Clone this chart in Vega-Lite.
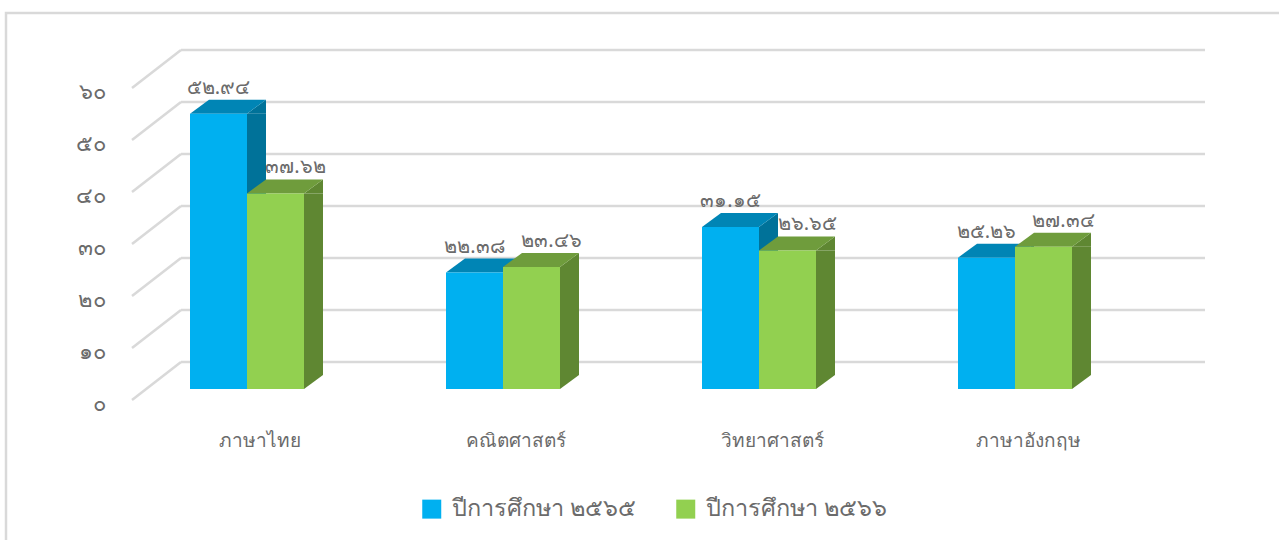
{
"$schema":"https://vega.github.io/schema/vega-lite/v6.json",
"width":1275,"height":529,
"autosize":"none",
"padding":{"left":6,"top":13,"right":0,"bottom":0},
"background":"white",
"config":{"view":{"stroke":"#d9d9d9","strokeWidth":2.5},"font":"Noto Sans"},
"datasets":{
"grid":[{"tick":0},{"tick":10},{"tick":20},{"tick":30},{"tick":40},{"tick":50},{"tick":60}],
"scores":[
{"subject":"ภาษาไทย","year":"ปีการศึกษา ๒๕๖๕","value":52.94,"label":"๕๒.๙๔"},
{"subject":"ภาษาไทย","year":"ปีการศึกษา ๒๕๖๖","value":37.62,"label":"๓๗.๖๒"},
{"subject":"คณิตศาสตร์","year":"ปีการศึกษา ๒๕๖๕","value":22.38,"label":"๒๒.๓๘"},
{"subject":"คณิตศาสตร์","year":"ปีการศึกษา ๒๕๖๖","value":23.46,"label":"๒๓.๔๖"},
{"subject":"วิทยาศาสตร์","year":"ปีการศึกษา ๒๕๖๕","value":31.15,"label":"๓๑.๑๕"},
{"subject":"วิทยาศาสตร์","year":"ปีการศึกษา ๒๕๖๖","value":26.65,"label":"๒๖.๖๕"},
{"subject":"ภาษาอังกฤษ","year":"ปีการศึกษา ๒๕๖๕","value":25.26,"label":"๒๕.๒๖"},
{"subject":"ภาษาอังกฤษ","year":"ปีการศึกษา ๒๕๖๖","value":27.34,"label":"๒๗.๓๔"}
]},
"resolve":{"scale":{"x":"independent","y":"independent"},"axis":{"x":"independent","y":"independent"}},
"layer":[
{"data":{"name":"grid"},"mark":{"type":"rule","stroke":"#d9d9d9","strokeWidth":2.5},
 "encoding":{"x":{"datum":0,"type":"quantitative","scale":{"domain":[0,1],"range":[175,1199]},"axis":null},"x2":{"datum":1},
 "y":{"field":"tick","type":"quantitative","scale":{"domain":[0,60],"range":[349,37]},"axis":null}}},
{"data":{"name":"grid"},"mark":{"type":"point","shape":"M0,0L-49,38","filled":false,"stroke":"#d9d9d9","strokeWidth":2.5,"size":4,"opacity":1},
 "encoding":{"x":{"datum":0,"type":"quantitative","scale":{"domain":[0,1],"range":[175,1199]},"axis":null},
 "y":{"field":"tick","type":"quantitative","scale":{"domain":[0,60],"range":[349,37]},"axis":null}}},
{"data":{"name":"scores"},"mark":{"type":"bar","width":19,"y2Offset":-14},
 "encoding":{
  "x":{"field":"subject","type":"nominal","sort":null,"scale":{"range":[151,1175],"paddingInner":0,"paddingOuter":0},"axis":null},
  "xOffset":{"field":"year","type":"nominal","sort":null,"scale":{"range":[71,185]}},
  "y":{"field":"value","type":"quantitative","scale":{"domain":[0,60],"range":[376,64]},"axis":null},
  "y2":{"datum":0},
  "color":{"condition":{"test":"indexof(datum.year,'๒๕๖๕')>=0","value":"#007299"},"value":"#5F8732"}}},
{"data":{"name":"scores"},
 "encoding":{
  "x":{"field":"subject","type":"nominal","sort":null,"scale":{"range":[113,1137],"paddingInner":0,"paddingOuter":0},
   "axis":{"title":null,"domain":false,"ticks":false,"labelAngle":0,"labelFontSize":19,"labelColor":"#6b6b6b","labelOffset":13,"offset":-111,"labelPadding":0,"labelBaseline":"top"}},
  "xOffset":{"field":"year","type":"nominal","sort":null,"scale":{"range":[71,185]}},
  "y":{"field":"value","type":"quantitative","scale":{"domain":[0,60],"range":[376,64]},
   "axis":{"title":null,"grid":false,"domain":false,"ticks":false,"values":[0,10,20,30,40,50,60],"labelExpr":"replace(replace(replace(replace(replace(replace(replace(datum.label,'0','๐'),'1','๑'),'2','๒'),'3','๓'),'4','๔'),'5','๕'),'6','๖')","labelFontSize":22,"labelColor":"#6b6b6b","labelPadding":0,"offset":-99,"labelOffset":14}}
 },
 "layer":[
  {"mark":{"type":"point","shape":"M28.5,0L47.5,0L47.5,-14Z","size":4,"filled":true,"opacity":1},
   "encoding":{"color":{"condition":{"test":"indexof(datum.year,'๒๕๖๕')>=0","value":"#007299"},"value":"#5F8732"}}},
  {"mark":{"type":"point","shape":"M28.5,0L28.5,-14L47.5,-14Z","size":4,"filled":true,"opacity":1},
   "encoding":{"y":{"datum":0},"color":{"condition":{"test":"indexof(datum.year,'๒๕๖๕')>=0","value":"#007299"},"value":"#5F8732"}}},
  {"mark":{"type":"point","shape":"M-28.5,0L28.5,0L47.5,-14L-9.5,-14Z","size":4,"filled":true,"opacity":1},
   "encoding":{"color":{"condition":{"test":"indexof(datum.year,'๒๕๖๕')>=0","value":"#0085B5"},"value":"#6F9C3C"}}},
  {"mark":{"type":"bar"},
   "encoding":{"y2":{"datum":0},"color":{"field":"year","type":"nominal","sort":null,"scale":{"range":["#00B0F0","#92D050"]},
    "legend":{"title":null,"orient":"none","legendX":414,"legendY":484,"direction":"horizontal","columns":2,"symbolType":"square","symbolSize":361,"symbolStrokeWidth":0,"labelFontSize":23.5,"labelColor":"#6b6b6b","labelLimit":400,"columnPadding":38,"labelOffset":8}}}},
  {"transform":[{"filter":"indexof(datum.year,'๒๕๖๕')>=0"}],"mark":{"type":"text","fontSize":20,"color":"#6b6b6b","dy":-26},"encoding":{"text":{"field":"label"}}},
  {"transform":[{"filter":"indexof(datum.year,'๒๕๖๖')>=0"}],"mark":{"type":"text","fontSize":20,"color":"#6b6b6b","dy":-26,"dx":20},"encoding":{"text":{"field":"label"}}}
 ]}
]}
